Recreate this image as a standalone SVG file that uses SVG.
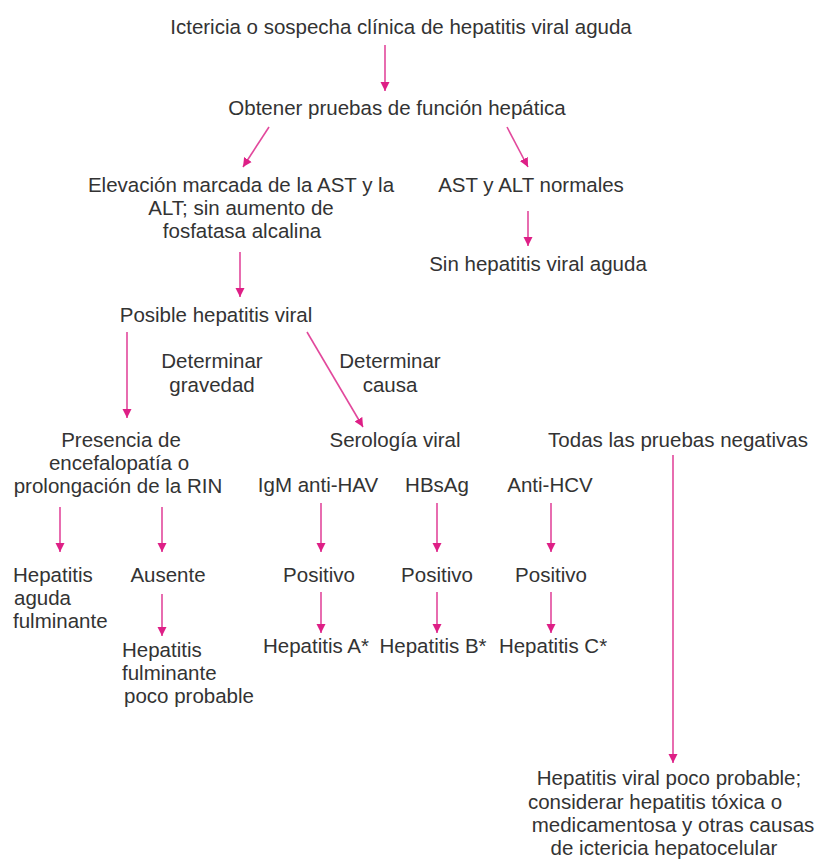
<svg xmlns="http://www.w3.org/2000/svg" width="818" height="859" viewBox="0 0 818 859">
  <style>
    text { font-family: "Liberation Sans", Arial, sans-serif; font-size: 20.5px; fill: #333333; }
    .c { text-anchor: middle; }
    .l { text-anchor: start; }
    .edge { stroke: #e2489c; stroke-width: 1.6; fill: none; marker-end: url(#tip); }
  </style>
  <defs>
    <marker id="tip" markerUnits="userSpaceOnUse" markerWidth="9" markerHeight="10" refX="10" refY="5" viewBox="0 0 10 10" orient="auto">
      <path d="M0,0 L10,5 L0,10 z" fill="#de1f86"/>
    </marker>
  </defs>
  <rect width="818" height="859" fill="#ffffff"/>

  <g id="connectors">
    <line class="edge" x1="385" y1="45" x2="385" y2="91"/>
    <line class="edge" x1="269" y1="127" x2="243" y2="167"/>
    <line class="edge" x1="507" y1="127" x2="528" y2="167"/>
    <line class="edge" x1="528" y1="211" x2="528" y2="246"/>
    <line class="edge" x1="240" y1="252" x2="240" y2="297"/>
    <line class="edge" x1="127" y1="332" x2="127" y2="418"/>
    <line class="edge" x1="307" y1="332" x2="363" y2="427"/>
    <line class="edge" x1="60" y1="507" x2="60" y2="552"/>
    <line class="edge" x1="162" y1="507" x2="162" y2="552"/>
    <line class="edge" x1="162" y1="594" x2="162" y2="636"/>
    <line class="edge" x1="321" y1="503" x2="321" y2="552"/>
    <line class="edge" x1="437" y1="503" x2="437" y2="552"/>
    <line class="edge" x1="551" y1="503" x2="551" y2="552"/>
    <line class="edge" x1="321" y1="592" x2="321" y2="633"/>
    <line class="edge" x1="437" y1="592" x2="437" y2="633"/>
    <line class="edge" x1="551" y1="592" x2="551" y2="633"/>
    <line class="edge" x1="673" y1="455" x2="673" y2="763"/>
  </g>

  <g id="n-ictericia"><text class="c" x="401" y="34">Ictericia o sospecha clínica de hepatitis viral aguda</text></g>
  <g id="n-pruebas"><text class="c" x="397" y="115">Obtener pruebas de función hepática</text></g>
  <g id="n-elevacion">
    <text class="c" x="241" y="192">Elevación marcada de la AST y la</text>
    <text class="c" x="241" y="215">ALT; sin aumento de</text>
    <text class="c" x="242" y="238">fosfatasa alcalina</text>
  </g>
  <g id="n-normales"><text class="c" x="531" y="192">AST y ALT normales</text></g>
  <g id="n-sin-hepatitis"><text class="c" x="538" y="271">Sin hepatitis viral aguda</text></g>
  <g id="n-posible"><text class="c" x="216" y="322">Posible hepatitis viral</text></g>
  <g id="lbl-gravedad">
    <text class="c" x="212" y="368">Determinar</text>
    <text class="c" x="212" y="392">gravedad</text>
  </g>
  <g id="lbl-causa">
    <text class="c" x="390" y="368">Determinar</text>
    <text class="c" x="390" y="392">causa</text>
  </g>
  <g id="n-encefalopatia">
    <text class="c" x="121" y="447">Presencia de</text>
    <text class="c" x="119" y="470">encefalopatía o</text>
    <text class="c" x="118" y="493">prolongación de la RIN</text>
  </g>
  <g id="n-serologia"><text class="c" x="395" y="447">Serología viral</text></g>
  <g id="n-negativas"><text class="c" x="678" y="447">Todas las pruebas negativas</text></g>
  <g id="n-fulminante">
    <text class="l" x="13" y="582">Hepatitis</text>
    <text class="l" x="14" y="605">aguda</text>
    <text class="l" x="13" y="628">fulminante</text>
  </g>
  <g id="n-ausente"><text class="c" x="168" y="582">Ausente</text></g>
  <g id="n-poco-probable">
    <text class="l" x="122" y="657">Hepatitis</text>
    <text class="l" x="122" y="680">fulminante</text>
    <text class="l" x="124" y="703">poco probable</text>
  </g>
  <g id="n-igm"><text class="c" x="318" y="492">IgM anti-HAV</text></g>
  <g id="n-hbsag"><text class="c" x="437" y="492">HBsAg</text></g>
  <g id="n-antihcv"><text class="c" x="550" y="492">Anti-HCV</text></g>
  <g id="n-pos-a"><text class="c" x="319" y="582">Positivo</text></g>
  <g id="n-pos-b"><text class="c" x="437" y="582">Positivo</text></g>
  <g id="n-pos-c"><text class="c" x="551" y="582">Positivo</text></g>
  <g id="n-hep-a"><text class="c" x="316" y="653">Hepatitis A*</text></g>
  <g id="n-hep-b"><text class="c" x="433" y="653">Hepatitis B*</text></g>
  <g id="n-hep-c"><text class="c" x="553" y="653">Hepatitis C*</text></g>
  <g id="n-otras-causas">
    <text class="c" x="669" y="785">Hepatitis viral poco probable;</text>
    <text class="c" x="655" y="809">considerar hepatitis tóxica o</text>
    <text class="c" x="673" y="832">medicamentosa y otras causas</text>
    <text class="c" x="664" y="855">de ictericia hepatocelular</text>
  </g>
</svg>
